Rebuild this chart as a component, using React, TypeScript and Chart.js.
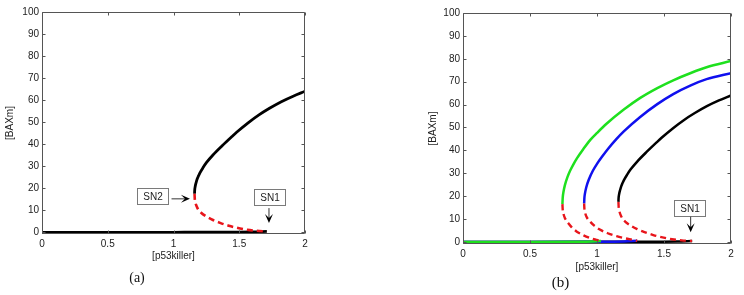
import React, { useEffect, useRef } from "react";
import { Chart, registerables } from "chart.js";

Chart.register(...registerables);

// ---------- data ----------
const xTicks = [0, 0.5, 1, 1.5, 2];
const xTickLabels = ["0", "0.5", "1", "1.5", "2"];
const yTicks = [0, 10, 20, 30, 40, 50, 60, 70, 80, 90, 100];

// black curve (panel a and b)
const blackUpperX = [1.16, 1.161, 1.165, 1.172, 1.18, 1.19, 1.2, 1.225, 1.25, 1.3, 1.37, 1.445, 1.48, 1.57, 1.65, 1.73, 1.82, 1.91, 2.0];
const blackUpperY = [17.5, 19.0, 20.8, 22.6, 24.2, 25.6, 26.9, 29.4, 31.6, 35.1, 39.3, 43.5, 45.4, 49.8, 53.3, 56.3, 59.3, 61.8, 64];
const blackUnstableX = [1.16, 1.162, 1.168, 1.176, 1.19, 1.21, 1.252, 1.3, 1.354, 1.42, 1.48, 1.56, 1.633, 1.71];
const blackUnstableY = [17.5, 15.0, 13.2, 11.8, 10.2, 8.9, 7.1, 5.6, 4.3, 3.0, 2.1, 1.2, 0.7, 0.4];
const blackLowerX = [0, 0.5, 1.0, 1.4, 1.6, 1.71];
const blackLowerY = [0, 0, 0.03, 0.1, 0.2, 0.4];

// blue curve (panel b)
const blueUpperX = [0.904, 0.906, 0.91, 0.92, 0.94, 0.97, 1.0, 1.04, 1.083, 1.146, 1.2, 1.32, 1.45, 1.569, 1.7, 1.818, 2.0];
const blueUpperY = [16.8, 19.3, 21.1, 23.9, 27.4, 31.2, 34.1, 37.4, 40.7, 45.0, 48.3, 54.5, 60.2, 64.6, 68.4, 71.1, 73.7];
const blueUnstableX = [0.904, 0.906, 0.912, 0.925, 0.947, 0.98, 1.021, 1.08, 1.146, 1.21, 1.27, 1.3];
const blueUnstableY = [16.8, 14.5, 12.6, 10.6, 9.0, 7.1, 5.4, 3.8, 2.5, 1.6, 0.9, 0.5];
const blueLowerX = [0, 0.5, 1.0, 1.2, 1.3];
const blueLowerY = [0, 0, 0.05, 0.2, 0.5];

// green curve (panel b)
const greenUpperX = [0.742, 0.744, 0.75, 0.76, 0.78, 0.8, 0.822, 0.85, 0.897, 0.95, 1.0, 1.071, 1.2, 1.32, 1.45, 1.569, 1.7, 1.818, 2.0];
const greenUpperY = [16.5, 19.2, 21.9, 24.7, 28.4, 31.2, 33.7, 36.5, 40.5, 44.6, 47.6, 51.6, 57.8, 62.8, 67.2, 70.6, 73.8, 76.3, 79];
const greenUnstableX = [0.742, 0.744, 0.75, 0.76, 0.772, 0.785, 0.81, 0.847, 0.9, 0.947, 0.99, 1.021, 1.03];
const greenUnstableY = [16.5, 14.2, 12.2, 10.5, 9.3, 8.3, 6.5, 4.6, 2.9, 1.75, 1.0, 0.55, 0.4];
const greenLowerX = [0, 0.5, 0.9, 1.0, 1.03];
const greenLowerY = [0, 0, 0.1, 0.3, 0.4];

// annotations (data coordinates)
const annotationsA = [
  { label: "SN2", bx: 0.837, by: 16.6, ax0: 0.985, ay0: 15.2, ax1: 1.125, ay1: 15.2 },
  { label: "SN1", bx: 1.73, by: 16.1, ax0: 1.726, ay0: 11.0, ax1: 1.726, ay1: 4.2 },
];
const annotationsB = [
  { label: "SN1", bx: 1.694, by: 15.0, ax0: 1.699, ay0: 11.0, ax1: 1.699, ay1: 4.2 },
];

// ---------- styles ----------
const AXIS_COLOR = "#555555";
const TEXT_COLOR = "#222222";
const FONT = "'Liberation Sans', Arial, sans-serif";
const RED = "#e8151b";
const GREEN = "#1ee01e";
const BLUE = "#1010ee";
const BLACK = "#000000";

const pts = (xs: number[], ys: number[]) => xs.map((x, i) => ({ x, y: ys[i] }));

const solid = (label: string, xs: number[], ys: number[], color: string, w: number) => ({
  label,
  data: pts(xs, ys),
  borderColor: color,
  backgroundColor: color,
  borderWidth: w,
  pointRadius: 0,
  cubicInterpolationMode: "monotone",
  fill: false,
});
const dashed = (label: string, xs: number[], ys: number[], w: number) => ({
  ...solid(label, xs, ys, RED, w),
  borderDash: [6, 4],
});

const framePlugin = {
  id: "frame",
  afterDatasetsDraw(chart: any, _args: any, opts: any) {
    const { ctx, chartArea } = chart;
    const { left, right, top, bottom } = chartArea;
    const xs = chart.scales.x;
    const ys = chart.scales.y;
    ctx.save();
    ctx.strokeStyle = AXIS_COLOR;
    ctx.lineWidth = 1;
    const L = Math.round(left) + 0.5;
    const R = Math.round(right) - 0.5;
    const T = Math.round(top) + 0.5;
    const B = Math.round(bottom) - 0.5;
    ctx.beginPath();
    ctx.rect(L, T, R - L, B - T);
    const tl = 3;
    for (const v of xTicks) {
      const p = Math.round(xs.getPixelForValue(v)) + 0.5;
      ctx.moveTo(p, B);
      ctx.lineTo(p, B - tl);
      ctx.moveTo(p, T);
      ctx.lineTo(p, T + tl);
    }
    for (const v of yTicks) {
      const p = Math.round(ys.getPixelForValue(v)) + 0.5;
      ctx.moveTo(L, p);
      ctx.lineTo(L + tl, p);
      ctx.moveTo(R, p);
      ctx.lineTo(R - tl, p);
    }
    ctx.stroke();

    // annotations
    const anns = (opts && opts.annotations) || [];
    for (const a of anns) {
      const cx = xs.getPixelForValue(a.bx);
      const cy = ys.getPixelForValue(a.by);
      const bw = 31;
      const bh = 16;
      const bl = Math.round(cx - bw / 2) + 0.5;
      const bt = Math.round(cy - bh / 2) + 0.5;
      ctx.fillStyle = "#ffffff";
      ctx.fillRect(bl, bt, bw, bh);
      ctx.strokeStyle = "#7a7a7a";
      ctx.lineWidth = 1;
      ctx.strokeRect(bl, bt, bw, bh);
      ctx.fillStyle = TEXT_COLOR;
      ctx.font = `10px ${FONT}`;
      ctx.textAlign = "center";
      ctx.textBaseline = "middle";
      ctx.fillText(a.label, bl + bw / 2, bt + bh / 2 + 0.5);

      const x0 = xs.getPixelForValue(a.ax0);
      const y0 = ys.getPixelForValue(a.ay0);
      const x1 = xs.getPixelForValue(a.ax1);
      const y1 = ys.getPixelForValue(a.ay1);
      const ang = Math.atan2(y1 - y0, x1 - x0);
      const hl = 9;
      const hw = 4;
      const notch = 5;
      ctx.strokeStyle = "#333333";
      ctx.lineWidth = 1;
      ctx.beginPath();
      ctx.moveTo(x0, y0);
      ctx.lineTo(x1 - Math.cos(ang) * notch, y1 - Math.sin(ang) * notch);
      ctx.stroke();
      const c = Math.cos(ang);
      const s = Math.sin(ang);
      const bx = x1 - c * hl;
      const by = y1 - s * hl;
      const nx = x1 - c * notch;
      const ny = y1 - s * notch;
      ctx.fillStyle = "#000000";
      ctx.beginPath();
      ctx.moveTo(x1, y1);
      ctx.lineTo(bx - s * hw, by + c * hw);
      ctx.lineTo(nx, ny);
      ctx.lineTo(bx + s * hw, by - c * hw);
      ctx.closePath();
      ctx.fill();
    }
    ctx.restore();
  },
};

type PanelCfg = {
  datasets: any[];
  yMin: number;
  yWidth: number;
  xHeight: number;
  padTop: number;
  padRight: number;
  yTitlePad: number;
  xTitlePad: number;
  annotations: any[];
};

function makeConfig(p: PanelCfg): any {
  return {
    type: "line",
    data: { datasets: p.datasets },
    options: {
      animation: false,
      responsive: false,
      events: [],
      layout: { padding: { top: p.padTop, right: p.padRight, left: 0, bottom: 0 } },
      plugins: {
        legend: { display: false },
        tooltip: { enabled: false },
        frame: { annotations: p.annotations },
      },
      scales: {
        x: {
          type: "linear",
          min: 0,
          max: 2,
          grid: { display: false, drawTicks: false },
          border: { display: false },
          afterBuildTicks: (scale: any) => {
            scale.ticks = xTicks.map((v) => ({ value: v }));
          },
          afterFit: (scale: any) => {
            scale.height = p.xHeight;
          },
          ticks: {
            padding: 4,
            color: TEXT_COLOR,
            font: { family: FONT, size: 10 },
            maxRotation: 0,
            autoSkip: false,
            callback: (v: number) => {
              const i = xTicks.indexOf(v);
              return i >= 0 ? xTickLabels[i] : String(v);
            },
          },
          title: {
            display: true,
            text: "[p53killer]",
            color: TEXT_COLOR,
            font: { family: FONT, size: 10 },
            padding: { top: 0, bottom: p.xTitlePad },
          },
        },
        y: {
          type: "linear",
          min: p.yMin,
          max: 100,
          grid: { display: false, drawTicks: false },
          border: { display: false },
          afterBuildTicks: (scale: any) => {
            scale.ticks = yTicks.map((v) => ({ value: v }));
          },
          afterFit: (scale: any) => {
            scale.width = p.yWidth;
          },
          ticks: {
            padding: 3,
            color: TEXT_COLOR,
            font: { family: FONT, size: 10 },
            autoSkip: false,
            callback: (v: number) => String(v),
          },
          title: {
            display: true,
            text: "[BAXm]",
            color: TEXT_COLOR,
            font: { family: FONT, size: 10 },
            padding: { top: p.yTitlePad, bottom: 0 },
          },
        },
      },
    },
    plugins: [framePlugin],
  };
}

function Panel(props: { cfg: PanelCfg; left: number; width: number }) {
  const ref = useRef<HTMLCanvasElement | null>(null);
  useEffect(() => {
    if (!ref.current) return;
    const chart = new Chart(ref.current, makeConfig(props.cfg));
    return () => chart.destroy();
  }, []);
  return (
    <canvas
      ref={ref}
      width={props.width}
      height={295}
      style={{ position: "absolute", left: props.left, top: 0, width: props.width, height: 295, display: "block" }}
    />
  );
}

const panelA: PanelCfg = {
  datasets: [
    dashed("black unstable", blackUnstableX, blackUnstableY, 2.6),
    solid("black upper", blackUpperX, blackUpperY, BLACK, 2.8),
    solid("black lower", blackLowerX, blackLowerY, BLACK, 2.8),
  ],
  yMin: -0.75,
  yWidth: 42,
  xHeight: 61,
  padTop: 12,
  padRight: 15,
  yTitlePad: 4,
  xTitlePad: 33,
  annotations: annotationsA,
};

const panelB: PanelCfg = {
  datasets: [
    dashed("green unstable", greenUnstableX, greenUnstableY, 2.4),
    dashed("blue unstable", blueUnstableX, blueUnstableY, 2.4),
    dashed("black unstable", blackUnstableX, blackUnstableY, 2.4),
    solid("green lower", greenLowerX, greenLowerY, GREEN, 2.5),
    solid("green upper", greenUpperX, greenUpperY, GREEN, 2.5),
    solid("blue lower", blueLowerX, blueLowerY, BLUE, 2.5),
    solid("blue upper", blueUpperX, blueUpperY, BLUE, 2.5),
    solid("black lower", blackLowerX, blackLowerY, BLACK, 2.5),
    solid("black upper", blackUpperX, blackUpperY, BLACK, 2.5),
  ],
  yMin: -0.9,
  yWidth: 63,
  xHeight: 51,
  padTop: 13,
  padRight: 13,
  yTitlePad: 27,
  xTitlePad: 22,
  annotations: annotationsB,
};

const capStyle = (x: number, y: number, size: number): React.CSSProperties => ({
  position: "absolute",
  left: x,
  top: y,
  transform: "translate(-50%, -50%)",
  fontFamily: "'Liberation Serif', 'Times New Roman', serif",
  fontSize: size,
  lineHeight: 1,
  color: "#111",
  whiteSpace: "nowrap",
});

export default function App() {
  return (
    <div style={{ position: "absolute", left: 0, top: 0, width: 744, height: 295, background: "#fff", overflow: "hidden" }}>
      <Panel cfg={panelA} left={0} width={320} />
      <Panel cfg={panelB} left={400} width={344} />
      <div style={capStyle(137, 278, 14)}>(a)</div>
      <div style={capStyle(560.5, 282, 15)}>(b)</div>
    </div>
  );
}
